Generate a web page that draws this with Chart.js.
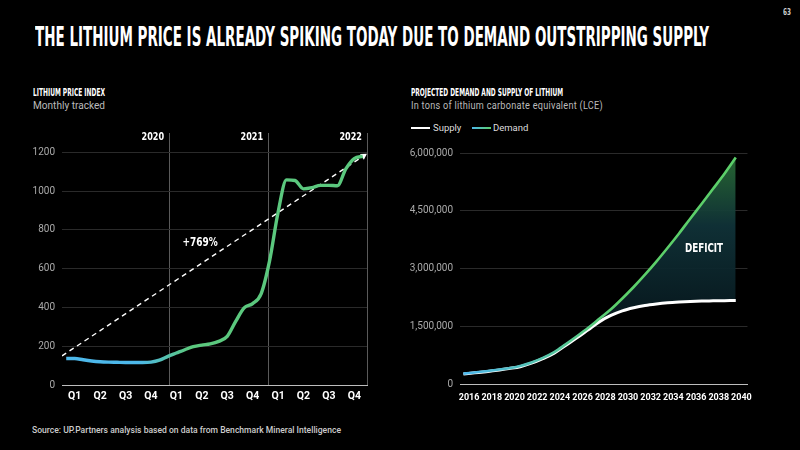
<!DOCTYPE html>
<html>
<head>
<meta charset="utf-8">
<script src="https://cdn.jsdelivr.net/npm/chart.js@4.4.1/dist/chart.umd.min.js"></script>
<style>
  html, body { margin: 0; padding: 0; background: #000; }
  body { width: 800px; height: 450px; position: relative; overflow: hidden; font-family: Roboto, "Noto Sans", sans-serif; color: #fff; }
  .cond { position: absolute; display: inline-block; white-space: nowrap; line-height: 1; transform-origin: 0 0;
          font-family: "Liberation Sans Narrow", "DejaVu Sans Condensed", sans-serif; font-weight: bold; }
  .txt { position: absolute; display: inline-block; white-space: nowrap; line-height: 1; transform-origin: 0 0; }
  .sw { position: absolute; height: 2px; width: 19px; }
  canvas { position: absolute; }
</style>
</head>
<body>
  <span class="cond" data-w="8" style="left:783px;top:8px;font-size:9px;color:#ccc;">63</span>
  <span class="cond" data-w="674" style="left:35px;top:24px;font-size:26px;">THE LITHIUM PRICE IS ALREADY SPIKING TODAY DUE TO DEMAND OUTSTRIPPING SUPPLY</span>

  <span class="cond" data-w="72" style="left:33px;top:87px;font-size:10.5px;">LITHIUM PRICE INDEX</span>
  <span class="txt" data-w="72" style="left:33px;top:101px;font-size:10px;color:#bbb;">Monthly tracked</span>

  <span class="cond" data-w="152" style="left:411px;top:87px;font-size:10.5px;">PROJECTED DEMAND AND SUPPLY OF LITHIUM</span>
  <span class="txt" data-w="192" style="left:411px;top:101px;font-size:10px;color:#bbb;letter-spacing:0.3px;">In tons of lithium carbonate equivalent (LCE)</span>

  <div class="sw" style="left:411px;top:127px;background:#fff;"></div>
  <span class="txt" style="left:433px;top:123px;font-size:9.5px;color:#ddd;">Supply</span>
  <div class="sw" style="left:472px;top:127px;background:linear-gradient(90deg,#4db8ea,#5ccf6a);"></div>
  <span class="txt" style="left:493px;top:123px;font-size:9.5px;color:#ddd;">Demand</span>

  <canvas id="priceChart" style="left:20px;top:120px;"></canvas>
  <canvas id="supplyChart" style="left:400px;top:140px;"></canvas>

  <span class="txt" data-w="309" style="left:32px;top:426px;font-size:9px;font-weight:500;color:#ccc;">Source: UP.Partners analysis based on data from Benchmark Mineral Intelligence</span>

<script>
// left chart: lithium price index, monthly 2020-2022
const quarterLabels = ["Q1", "Q2", "Q3", "Q4", "Q1", "Q2", "Q3", "Q4", "Q1", "Q2", "Q3", "Q4"];
const yearLabels = ["2020", "2021", "2022"];
const priceIndex = [137, 137, 130, 124, 120, 118, 117, 116, 116, 116, 118, 128,
                    148, 165, 182, 198, 206, 212, 225, 251, 328, 398, 420, 470,
                    640, 890, 1058, 1055, 1012, 1018, 1030, 1030, 1028, 1115, 1168, 1180];
const trendMonths = [0, 35.6];
const trendValues = [150, 1182];
const changeLabel = "+769%";
const changeAt = [16.3, 736];

// right chart: projected demand and supply (tons LCE)
const years = [2015, 2016, 2017, 2018, 2019, 2020, 2021, 2022, 2023, 2024, 2025, 2026, 2027,
               2028, 2029, 2030, 2031, 2032, 2033, 2034, 2035, 2036, 2037, 2038, 2039];
const supply = [260000, 290000, 320000, 355000, 400000, 450000, 540000, 660000, 800000, 1000000,
                1200000, 1410000, 1620000, 1780000, 1900000, 1980000, 2040000, 2080000, 2110000,
                2130000, 2145000, 2155000, 2160000, 2165000, 2170000];
const demand = [270000, 300000, 330000, 370000, 410000, 470000, 560000, 680000, 830000, 1030000,
                1240000, 1460000, 1700000, 1940000, 2220000, 2520000, 2840000, 3180000, 3540000,
                3910000, 4300000, 4680000, 5070000, 5460000, 5880000];
const projTicks = [2016, 2018, 2020, 2022, 2024, 2026, 2028, 2030, 2032, 2034, 2036, 2038, 2040];
const deficitLabel = "DEFICIT";
const deficitAt = [2036.7, 3510000];

const BLUE = "#4db8ea";
const GREEN_L = "#5bc87e";
const GREEN_R = "#5ccf6a";
const NARROW = '"Liberation Sans Narrow", "DejaVu Sans Condensed", sans-serif';

// squeeze headings to the measured widths
document.querySelectorAll("[data-w]").forEach((el) => {
  const w = el.getBoundingClientRect().width;
  el.style.transform = `scaleX(${(+el.dataset.w / w).toFixed(4)})`;
});

function hGradient(chart, x0, x1, c0, c1) {
  const { ctx, chartArea, scales } = chart;
  if (!chartArea) return c1;
  const g = ctx.createLinearGradient(scales.x.getPixelForValue(x0), 0, scales.x.getPixelForValue(x1), 0);
  g.addColorStop(0, c0);
  g.addColorStop(1, c1);
  return g;
}

function drawNote(chart, text, px, py, size, align, sx) {
  const ctx = chart.ctx;
  ctx.save();
  ctx.font = `bold ${size}px ${NARROW}`;
  ctx.fillStyle = "#fff";
  ctx.textAlign = align;
  ctx.textBaseline = "middle";
  ctx.translate(px, py);
  ctx.scale(sx, 1);
  ctx.fillText(text, 0, 0);
  ctx.restore();
}

Chart.defaults.font.family = 'Roboto, "Noto Sans", sans-serif';
Chart.defaults.animation = false;

const priceCanvas = document.getElementById("priceChart");
priceCanvas.width = 360; priceCanvas.height = 290;
new Chart(priceCanvas, {
  type: "line",
  data: {
    datasets: [
      {
        data: priceIndex.map((v, i) => ({ x: i + 0.5, y: v })),
        borderColor: (c) => hGradient(c.chart, 9, 15, BLUE, GREEN_L),
        borderWidth: 3.4,
        pointRadius: 0,
        cubicInterpolationMode: "monotone",
        fill: false
      },
      {
        data: trendMonths.map((m, i) => ({ x: m, y: trendValues[i] })),
        borderColor: "#fff",
        borderWidth: 1.4,
        borderDash: [5, 4],
        pointRadius: [0, 4],
        pointStyle: "triangle",
        pointRotation: [0, 56],
        pointBackgroundColor: "#fff",
        pointBorderWidth: 0,
        fill: false
      }
    ]
  },
  options: {
    responsive: false,
    layout: { padding: { top: 13, right: 13, left: 0, bottom: 0 } },
    plugins: { legend: { display: false }, tooltip: { enabled: false } },
    scales: {
      x: {
        type: "linear", axis: "x", position: "bottom", min: 0, max: 36,
        afterBuildTicks: (s) => { s.ticks = quarterLabels.map((q, i) => ({ value: i * 3 + 1.5 })); },
        afterFit: (s) => { s.height = 25; },
        ticks: { color: "#fff", font: { size: 10.5, weight: "bold" }, padding: 5, autoSkip: false, maxRotation: 0,
                 callback: (v, i) => quarterLabels[i] },
        grid: { color: "transparent", drawTicks: false },
        border: { color: "#bdbdbd", width: 1 }
      },
      xYears: {
        type: "linear", axis: "x", position: "top", min: -1, max: 36,
        afterBuildTicks: (s) => { s.ticks = yearLabels.map((y, i) => ({ value: (i + 1) * 12 })); },
        afterFit: (s) => { s.height = 0; },
        ticks: { display: false },
        grid: { color: "#5a5a5a", drawTicks: false },
        border: { display: false }
      },
      y: {
        min: 0, max: 1300,
        afterBuildTicks: (s) => { s.ticks = s.ticks.filter((t) => t.value <= 1200); },
        afterFit: (s) => { s.width = 42; },
        ticks: { stepSize: 200, color: "#aaa", font: { size: 10 }, padding: 7, callback: (v) => String(v) },
        grid: { color: "#2a2a2a", drawTicks: false },
        border: { display: false }
      }
    }
  },
  plugins: [{
    id: "priceNotes",
    afterDatasetsDraw(chart) {
      const xy = chart.scales.xYears, x = chart.scales.x, y = chart.scales.y;
      yearLabels.forEach((lab, i) => {
        drawNote(chart, lab, xy.getPixelForValue((i + 1) * 12) - 5, chart.chartArea.top + 4.5, 11, "right", 0.82);
      });
      drawNote(chart, changeLabel, x.getPixelForValue(changeAt[0]), y.getPixelForValue(changeAt[1]), 12.5, "center", 0.8);
    }
  }]
});

const supplyCanvas = document.getElementById("supplyChart");
supplyCanvas.width = 360; supplyCanvas.height = 270;
new Chart(supplyCanvas, {
  type: "line",
  data: {
    datasets: [
      {
        label: "Supply",
        order: 1,
        data: supply.map((v, i) => ({ x: years[i] + 0.5, y: v })),
        borderColor: "#fff",
        borderWidth: 3,
        pointRadius: 0,
        cubicInterpolationMode: "monotone",
        fill: false
      },
      {
        label: "Demand",
        order: 0,
        data: demand.map((v, i) => ({ x: years[i] + 0.5, y: v })),
        borderColor: (c) => hGradient(c.chart, 2016, 2029, BLUE, GREEN_R),
        backgroundColor: (c) => {
          const { ctx, chartArea, scales } = c.chart;
          if (!chartArea) return "rgba(20,60,60,0.8)";
          const g = ctx.createLinearGradient(0, scales.y.getPixelForValue(6000000), 0, scales.y.getPixelForValue(1800000));
          g.addColorStop(0, "rgba(42,110,52,0.95)");
          g.addColorStop(0.45, "rgba(16,50,56,0.95)");
          g.addColorStop(1, "rgba(8,26,32,0.95)");
          return g;
        },
        borderWidth: 2.6,
        pointRadius: 0,
        cubicInterpolationMode: "monotone",
        fill: { target: 0, below: "transparent" }
      }
    ]
  },
  options: {
    responsive: false,
    layout: { padding: { top: 10, right: 11, left: 0, bottom: 0 } },
    plugins: { legend: { display: false }, tooltip: { enabled: false }, filler: { drawTime: "beforeDatasetsDraw" } },
    scales: {
      x: {
        type: "linear", min: 2015.2, max: 2040.53,
        afterBuildTicks: (s) => { s.ticks = projTicks.map((v) => ({ value: v })); },
        afterFit: (s) => { s.height = 26; },
        ticks: { color: "#fff", font: { size: 9, weight: "bold" }, padding: 8, autoSkip: false, maxRotation: 0,
                 callback: (v) => String(v) },
        grid: { color: "transparent", drawTicks: false },
        border: { color: "#bdbdbd", width: 1 }
      },
      y: {
        min: 0, max: 6000000,
        afterFit: (s) => { s.width = 60; },
        ticks: { stepSize: 1500000, color: "#aaa", font: { size: 10 }, padding: 7 },
        grid: { color: "#2a2a2a", drawTicks: false },
        border: { display: false }
      }
    }
  },
  plugins: [{
    id: "deficitNote",
    afterDatasetsDraw(chart) {
      drawNote(chart, deficitLabel, chart.scales.x.getPixelForValue(deficitAt[0]),
               chart.scales.y.getPixelForValue(deficitAt[1]), 13, "center", 0.75);
    }
  }]
});
</script>
</body>
</html>
